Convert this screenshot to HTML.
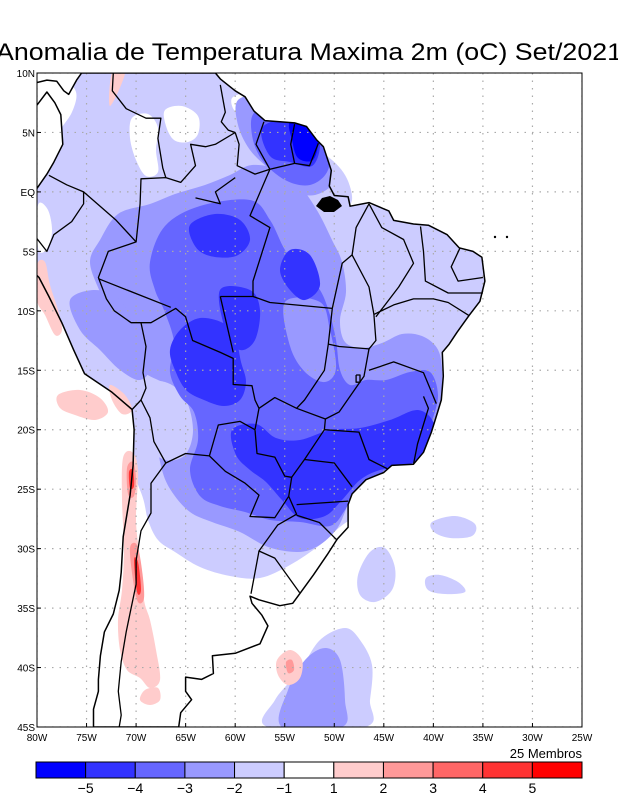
<!DOCTYPE html>
<html><head><meta charset="utf-8"><style>
html,body{margin:0;padding:0;background:#fff;}
svg{display:block;font-family:"Liberation Sans",sans-serif;}
</style></head><body>
<svg id="chart" width="618" height="800" viewBox="0 0 618 800" xmlns="http://www.w3.org/2000/svg">
<defs><clipPath id="mapclip"><rect x="37" y="73" width="545" height="654"/></clipPath><clipPath id="landclip"><path id="landclipPath" d=""/></clipPath></defs>
<text x="-4" y="60" font-size="24" textLength="626" lengthAdjust="spacingAndGlyphs">Anomalia de Temperatura Maxima 2m (oC) Set/2021</text>
<g id="fields" clip-path="url(#mapclip)"></g>
<g id="grid" clip-path="url(#mapclip)"></g>
<g id="lines" clip-path="url(#mapclip)"></g>
<rect x="37" y="73" width="545" height="654" fill="none" stroke="#000" stroke-width="1"/>
<g id="axes"></g>
<text x="582" y="758" font-size="13" text-anchor="end">25 Membros</text>
<g id="colorbar"></g>
</svg>
<script>
const latTicks=[10,5,0,-5,-10,-15,-20,-25,-30,-35,-40,-45];
const latLabels=["10N","5N","EQ","5S","10S","15S","20S","25S","30S","35S","40S","45S"];
const lonTicks=[-80,-75,-70,-65,-60,-55,-50,-45,-40,-35,-30,-25];
const lonLabels=["80W","75W","70W","65W","60W","55W","50W","45W","40W","35W","30W","25W"];
const cbLevels=[-5,-4,-3,-2,-1,1,2,3,4,5];
const cbColors=["#0000ff","#3333ff","#6666ff","#9999ff","#ccccff","#ffffff","#ffcccc","#ff9999","#ff6666","#ff3333","#ff0000"];

const NS="http://www.w3.org/2000/svg";
const X0=37,X1=582,Y0=73,Y1=727;
function xs(lon){return X0+(lon+80)*(X1-X0)/55;}
function ys(lat){return Y0+(10-lat)*(Y1-Y0)/55;}
function mk(tag,attrs,parent){const e=document.createElementNS(NS,tag);for(const k in attrs)e.setAttribute(k,attrs[k]);parent.appendChild(e);return e;}
function llpath(pts,close){return pts.map((p,i)=>(i?"L":"M")+xs(p[0]).toFixed(1)+","+ys(p[1]).toFixed(1)).join("")+(close?"Z":"");}
function pxpath(pts){let d="M"+pts[0][0]+","+pts[0][1];const n=pts.length;
 for(let i=0;i<n;i++){const p0=pts[(i-1+n)%n],p1=pts[i],p2=pts[(i+1)%n],p3=pts[(i+2)%n];
 d+="C"+(p1[0]+(p2[0]-p0[0])/6).toFixed(1)+","+(p1[1]+(p2[1]-p0[1])/6).toFixed(1)+" "+(p2[0]-(p3[0]-p1[0])/6).toFixed(1)+","+(p2[1]-(p3[1]-p1[1])/6).toFixed(1)+" "+p2[0]+","+p2[1];}
 return d+"Z";}

const coast=[[-80,7.3],[-79,8.4],[-78.2,7.5],[-77.6,6.5],[-77.4,4],[-78.3,2.5],[-79,1.5],[-80,0.3],[-80.4,-1],[-80.1,-2.5],[-80.4,-3.5],[-81.2,-5],[-81,-6.2],[-79.8,-7.2],[-78.8,-8.8],[-77.5,-11],[-76.3,-13.3],[-75.2,-15.3],[-72.5,-16.8],[-70.4,-18.3],[-70.2,-20],[-70.3,-23],[-70.6,-25.5],[-71.3,-29],[-71.5,-32],[-71.7,-33.5],[-72.3,-35.5],[-73.2,-37],[-73.6,-39],[-73.8,-41],[-73.8,-42],[-74.3,-43.5],[-74.3,-45],[-65.7,-45],[-65.5,-43.8],[-64.4,-42.7],[-65,-42],[-65,-40.8],[-63.4,-41],[-62.2,-40.5],[-62.3,-39],[-60,-38.8],[-57.5,-38],[-56.7,-36.5],[-57.3,-35.6],[-58.3,-34.6],[-58.5,-34],[-57.6,-34.3],[-55.5,-34.8],[-54.2,-34.6],[-53.4,-33.7],[-52.1,-32.2],[-50.7,-30.5],[-49.7,-29.2],[-48.6,-28.2],[-48.6,-26.3],[-48.2,-25.4],[-46.8,-24.2],[-45,-23.6],[-44.2,-23],[-42,-22.9],[-41,-21.9],[-40.2,-20.2],[-39.6,-18.6],[-39.2,-17.5],[-39,-15.5],[-39.1,-13.5],[-38.4,-12.8],[-37.6,-11.8],[-36.4,-10.4],[-35.3,-9.2],[-34.8,-7.5],[-35.1,-5.5],[-36,-5],[-37.4,-4.7],[-38.6,-3.6],[-40.5,-2.8],[-42,-2.7],[-44,-2.4],[-44.5,-1.6],[-46.5,-0.9],[-48.4,-1.2],[-48.6,-0.4],[-50,-0.3],[-50.5,0.5],[-50.3,1.8],[-51.1,3.8],[-51.8,4.4],[-52.8,5.5],[-54,5.8],[-55.5,5.9],[-57,6],[-58.1,6.8],[-59,8],[-60,8.5],[-61.5,9.5],[-62,10],[-75.5,10],[-76,9.4],[-76.8,8.2],[-77.3,8.5],[-78,9.3],[-79,9.4],[-80,9.2]];

const borders=[
 [[-78.8,1.4],[-77,0.6],[-75.3,0],[-75.3,-1],[-76.5,-2.5],[-78.3,-3.6],[-79,-5],[-80.4,-3.5]],
 [[-75.3,0],[-73.5,-1.3],[-72,-2.4],[-70,-4.2]],
 [[-72.3,10],[-72.4,8.5],[-71,7],[-69,6.2],[-67.5,6.2],[-67.8,4.5],[-67.3,2],[-67,1.2]],
 [[-61.5,9],[-61,6.7],[-61.4,5.9],[-60.7,5.2],[-60,5]],
 [[-57.1,5.9],[-57.9,4],[-56.5,1.9]],
 [[-54,5.7],[-54.4,4],[-54,2.4],[-52.5,2.2],[-51.6,4.1]],
 [[-60,5],[-59.6,4],[-59.8,2.2],[-58,1.5],[-56.5,1.9],[-54,2.4]],
 [[-60,5],[-62,4],[-63,3.8],[-64.5,4],[-64,2.2],[-65.5,0.8],[-67,1.2],[-69.5,1.1],[-69.6,-1],[-70,-4.2],[-72.8,-5],[-73.8,-7.2],[-73,-9],[-72.2,-10],[-70.5,-11],[-69.5,-11],[-68.5,-11],[-66,-9.8],[-65,-10.5],[-64.3,-12.5],[-61.5,-13.5],[-60.2,-14],[-60.2,-16.2],[-58.3,-16.3],[-58,-17.5],[-57.6,-18.2],[-58,-20],[-57.8,-22],[-56,-22.3],[-55,-23.9],[-54.3,-24],[-54.6,-25.6],[-53.8,-27.1],[-55.7,-28],[-57.6,-30.2],[-56,-30.8],[-53.5,-33.7]],
 [[-58,-20],[-59.5,-19.3],[-61.7,-19.6],[-62.6,-22.2],[-61,-23.5],[-59,-24.5],[-57.6,-25.5],[-58.5,-27.3],[-56,-27.4],[-54.6,-25.6]],
 [[-69.5,-11],[-69,-13],[-69.3,-15.2],[-69,-16.5],[-69.5,-17.5],[-68.6,-19],[-68.2,-21],[-67,-22.8],[-65,-22],[-62.6,-22.2]],
 [[-70.4,-18.3],[-69.5,-17.5]],
 [[-67,-22.8],[-68.5,-24.5],[-68.5,-27],[-69.5,-28.5],[-70,-31],[-70,-33],[-70.5,-35],[-71,-37],[-71.5,-39.5],[-71.8,-42],[-71.5,-44],[-71.7,-45]],
 [[-57.6,-30.2],[-58,-32],[-58.4,-33.8]],
 [[-73.8,-7.3],[-66.5,-9.7]],
 [[-61.5,-8.8],[-58.2,-8.8],[-56.5,-9.3],[-50.2,-9.8]],
 [[-61.5,-8.8],[-60.2,-13.5]],
 [[-50.2,-9.8],[-50.6,-12.8],[-51,-15],[-53,-17.5],[-53.8,-18.2],[-56,-17.3],[-57.6,-18.2]],
 [[-56.5,1.9],[-58.5,-2],[-56.5,-3],[-58.2,-7.5],[-58.2,-8.8]],
 [[-60,1.2],[-62,0],[-61.5,-1],[-64,-0.5]],
 [[-50.2,-9.8],[-49.2,-6],[-48.2,-5.3],[-47.8,-3],[-46.5,-1]],
 [[-48.2,-5.3],[-46.5,-8],[-46,-10.3],[-45.8,-12.5],[-46.5,-13.2],[-49.5,-13],[-50.6,-12.8]],
 [[-46.5,-13.2],[-47,-15.5],[-49.5,-18.5],[-50.9,-19.1],[-53.8,-18.2]],
 [[-50.9,-19.1],[-51,-20],[-53,-22.5],[-54.3,-24]],
 [[-51,-20],[-47.5,-20.2],[-46.5,-22.5],[-44.6,-23.3]],
 [[-53,-22.5],[-50,-22.8],[-48.2,-24.8]],
 [[-53.8,-26.3],[-48.6,-26]],
 [[-53.8,-27.2],[-51.5,-27.8],[-49.7,-29.3]],
 [[-46,-10.3],[-44,-9.5],[-42,-9],[-40,-9],[-38.5,-9.3],[-36.4,-10.4]],
 [[-46.5,-1],[-45.2,-3],[-43,-4],[-42,-6],[-43.5,-8],[-45.8,-10.5]],
 [[-41.3,-2.9],[-41,-5],[-40.8,-7.5],[-38.5,-8.5],[-35,-8.5]],
 [[-37.3,-4.7],[-38.2,-6.3],[-37.5,-7.5],[-35,-7.2]],
 [[-46.5,-15],[-44,-14.3],[-41,-15.2],[-39.7,-17.8]],
 [[-42,-22.9],[-41.6,-21.2],[-40.5,-18.2],[-41,-17.2]],
 [[-47.8,-15.4],[-47.4,-15.4],[-47.4,-16],[-47.8,-16],[-47.8,-15.4]]
];

const lightWhite=[
 [[38,80],[62,78],[76,92],[72,112],[60,130],[48,150],[40,150]],
 [[132,118],[148,114],[158,128],[156,150],[158,172],[146,176],[136,160],[130,138]],
 [[165,110],[182,106],[198,116],[198,134],[188,142],[174,140],[166,126]],
 [[38,205],[48,210],[52,232],[46,250],[38,248]],
 [[232,98],[246,94],[252,106],[244,115],[234,110]]
];
const bandLight=[[30,70],[600,70],[600,110],[350,150],[348,200],[500,230],[500,400],[450,470],[400,500],[350,520],[320,545],[290,565],[260,578],[230,576],[200,567],[175,552],[158,540],[148,520],[140,490],[110,430],[30,400]];
const band99=[[100,240],[118,214],[150,204],[175,194],[205,185],[230,175],[252,165],[280,170],[300,186],[318,212],[332,240],[342,262],[346,292],[340,320],[345,342],[362,348],[382,343],[402,334],[422,336],[437,348],[442,368],[441,400],[436,430],[426,458],[400,472],[372,480],[352,492],[345,512],[336,530],[318,546],[298,552],[268,547],[240,532],[212,522],[190,512],[172,492],[162,470],[158,440],[168,420],[182,410],[178,392],[162,382],[144,372],[128,350],[114,322],[100,292],[90,262]];
const band99N=[[238,100],[265,95],[295,105],[320,120],[332,150],[335,180],[315,195],[290,190],[270,170],[250,150],[238,125]];
const band99W=[[70,300],[95,290],[120,300],[135,330],[150,365],[140,380],[120,370],[100,350],[80,330]];
const light2=[[140,385],[165,382],[185,398],[193,430],[185,455],[165,460],[148,445],[140,415]];
const band66=[[150,262],[165,226],[200,206],[250,200],[270,220],[285,250],[302,270],[320,290],[330,315],[336,340],[340,370],[350,385],[366,380],[386,380],[410,372],[430,372],[438,395],[432,422],[425,450],[410,465],[380,476],[356,490],[345,510],[330,526],[300,522],[270,520],[245,512],[220,506],[200,496],[190,470],[198,440],[194,412],[180,396],[170,372],[174,342],[164,310],[155,290]];
const band66N=[[255,112],[285,108],[315,118],[328,140],[328,170],[310,185],[285,180],[262,160],[252,135]];
const mid99=[[285,302],[320,302],[330,330],[336,368],[325,382],[305,372],[290,346]];
const band33=[
 [[180,330],[200,318],[225,324],[236,340],[241,362],[246,382],[240,400],[224,406],[204,400],[186,390],[175,370],[170,350]],
 [[220,290],[250,290],[260,310],[255,340],[240,350],[226,332]],
 [[190,225],[215,214],[240,220],[250,240],[236,256],[210,256],[195,246]],
 [[290,250],[310,255],[320,285],[305,300],[290,290],[280,270]],
 [[232,430],[256,424],[276,438],[300,440],[330,430],[360,428],[390,420],[418,410],[434,424],[430,450],[410,464],[380,470],[360,480],[342,500],[325,516],[300,518],[282,500],[266,482],[250,470],[236,455]],
 [[262,128],[290,118],[312,124],[320,145],[312,166],[290,162],[270,156]]
];
const band00=[[290,122],[310,122],[318,140],[313,160],[298,158],[292,140]];
const oceanLight=[
 [[432,522],[455,516],[475,524],[472,536],[450,538],[434,532]],
 [[358,575],[370,552],[385,548],[395,568],[392,590],[375,602],[360,595]],
 [[426,578],[440,575],[458,582],[465,592],[445,594],[428,590]],
 [[268,727],[275,700],[300,670],[320,640],[345,628],[360,640],[372,665],[370,700],[365,727]]
];
const ocean99=[[282,727],[288,690],[305,660],[325,648],[340,660],[345,700],[342,727]];
const pinks=[
 [[123,458],[132,452],[138,470],[136,520],[140,560],[144,600],[150,620],[156,650],[160,680],[150,688],[140,678],[127,670],[120,650],[118,620],[122,590],[124,550],[122,500]],
 [[58,395],[80,390],[100,398],[108,412],[95,420],[75,415],[60,408]],
 [[37,265],[45,262],[50,285],[58,310],[62,330],[55,335],[45,315],[37,300]],
 [[110,385],[125,395],[132,410],[122,414],[112,400]],
 [[277,660],[290,650],[302,660],[300,678],[288,685],[278,675]],
 [[145,690],[158,688],[160,700],[150,705],[140,700]],
 [[110,58+48],[125,73],[112,73]]
];
const p99=[[[127,468],[133,462],[136,478],[134,496],[128,494]],[[130,548],[137,545],[142,570],[144,598],[138,602],[133,580]],[[286,662],[292,660],[294,670],[288,673]]];
const pRed=[[[129,472],[133,470],[134,486],[130,488]],[[134,560],[138,562],[141,590],[137,592]]];

const F=document.getElementById("fields");
document.getElementById("landclipPath").setAttribute("d",llpath(coast,true));
function blob(pts,col,clip,name){const e=mk("path",{d:pxpath(pts),fill:col},F);if(clip)e.setAttribute("clip-path","url(#landclip)");
 
 return e;}
blob(bandLight,"#ccccff",true,"anomaly-band-minus1");
blob([[300,150],[325,155],[345,175],[352,200],[340,208],[322,195],[300,170]],"#ccccff",false,"ocean-band-minus1");
lightWhite.forEach(p=>blob(p,"#ffffff",true,"anomaly-band-white"));
blob(band99,"#9999ff",true,"anomaly-band-minus2");
blob(band99N,"#9999ff",true,"anomaly-band-minus2-north");
blob(band99W,"#9999ff",true,"anomaly-band-minus2-west");
blob(light2,"#ccccff",true,"anomaly-band-minus1-bolivia");
blob(band66,"#6666ff",true,"anomaly-band-minus3");
blob(band66N,"#6666ff",true,"anomaly-band-minus3-north");
blob(mid99,"#9999ff",true,"anomaly-band-minus2-central");
band33.forEach(p=>blob(p,"#3333ff",true,"anomaly-band-minus4"));
blob(band00,"#0000ff",true,"anomaly-band-minus5");
oceanLight.forEach(p=>blob(p,"#ccccff",false,"ocean-band-minus1"));
blob(ocean99,"#9999ff",false,"ocean-band-minus2");
pinks.forEach(p=>blob(p,"#ffcccc",false,"anomaly-band-plus1"));
p99.forEach(p=>blob(p,"#ff9999",false,"anomaly-band-plus2"));
pRed.forEach(p=>blob(p,"#ff3333",false,"anomaly-band-plus4"));

const G=document.getElementById("grid");
lonTicks.forEach(l=>{const e=mk("line",{x1:xs(l),x2:xs(l),y1:Y0,y2:Y1,stroke:"#aaa","stroke-width":1.2,"stroke-dasharray":"1.5,6"},G);
 
 });
latTicks.forEach(l=>{const e=mk("line",{x1:X0,x2:X1,y1:ys(l),y2:ys(l),stroke:"#aaa","stroke-width":1.2,"stroke-dasharray":"1.5,6"},G);
 
 });

const L=document.getElementById("lines");
const c=mk("path",{d:llpath(coast,false),fill:"none",stroke:"#000","stroke-width":1.5,"stroke-linejoin":"round"},L);


borders.forEach(b=>{const e=mk("path",{d:llpath(b,false),fill:"none",stroke:"#000","stroke-width":1.3,"stroke-linejoin":"round"},L);
 
 });
const md=mk("path",{d:"M316,206 L322,198 L330,196 L338,200 L342,206 L334,212 L324,212 Z",fill:"#000"},L);


[[495,237],[507,237]].forEach(p=>{const e=mk("circle",{cx:p[0],cy:p[1],r:1.2,fill:"#000"},L);
 
 });

const A=document.getElementById("axes");
latTicks.forEach((l,i)=>{const t=mk("text",{x:35,y:ys(l)+4,"font-size":10,"text-anchor":"end"},A);t.textContent=latLabels[i];
 
 
 const k=mk("line",{x1:X0,x2:X0+4,y1:ys(l),y2:ys(l),stroke:"#000"},A);
 
 });
lonTicks.forEach((l,i)=>{const t=mk("text",{x:xs(l),y:741,"font-size":10,"text-anchor":"middle"},A);t.textContent=lonLabels[i];
 
 
 const k=mk("line",{x1:xs(l),x2:xs(l),y1:Y1,y2:Y1-4,stroke:"#000"},A);
 
 });

const CB=document.getElementById("colorbar");
const cbX0=36,cbX1=582,cbW=(cbX1-cbX0)/cbColors.length;
cbColors.forEach((col,i)=>{const r=mk("rect",{x:cbX0+i*cbW,y:762,width:cbW,height:16,fill:col,stroke:"#000","stroke-width":1},CB);
 
 });
cbLevels.forEach((v,i)=>{const t=mk("text",{x:cbX0+(i+1)*cbW,y:793,"font-size":14,"text-anchor":"middle"},CB);t.textContent=v<0?"\u2212"+(-v):String(v);
 
 });
</script>
</body></html>
